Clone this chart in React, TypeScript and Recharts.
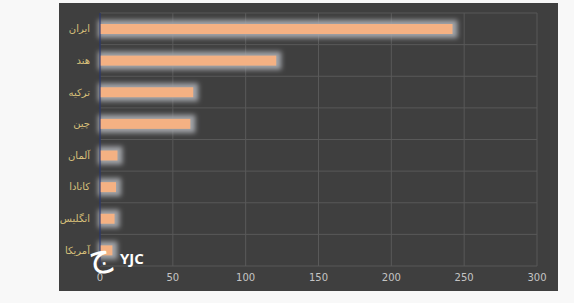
import { BarChart, Bar, XAxis, YAxis, CartesianGrid } from 'recharts';

const countries = ['ایران', 'هند', 'ترکیه', 'چین', 'آلمان', 'کانادا', 'انگلیس', 'آمریکا'];
const values = [242, 121, 64, 62, 12, 11, 10, 8.5];
const xTicks = [0, 50, 100, 150, 200, 250, 300];

const data = countries.map((name, i) => ({ name, value: values[i] }));

// peach bar with a soft grey glow around it
const GlowBar = (props: any) => {
  const { x, y, width, height, index } = props;
  if (width == null || width <= 0) return null;
  const id = `glow-${index}`;
  return (
    <g>
      <defs>
        <filter id={id} x="-50%" y="-100%" width="200%" height="300%">
          <feGaussianBlur stdDeviation="2.4" />
        </filter>
      </defs>
      <rect x={x - 2} y={y - 4} width={width + 7} height={height + 8} fill="#a2a4a9" filter={`url(#${id})`} />
      <rect x={x} y={y} width={width} height={height} fill="#f4b183" />
    </g>
  );
};

export default function App() {
  return (
    <div style={{ position: 'fixed', left: 0, top: 0, width: 574, height: 303, background: '#f8f8f8', fontFamily: '"DejaVu Sans", Tahoma, sans-serif' }}>
      <div style={{ position: 'absolute', left: 59, top: 3, width: 499, height: 288, background: '#3f3f3f' }} />
      <div style={{ position: 'absolute', left: 0, top: 0 }}>
        <BarChart
          width={574}
          height={303}
          data={data}
          layout="vertical"
          margin={{ top: 13, right: 37, bottom: 7, left: 0 }}
          barSize={10}
        >
          <CartesianGrid
            stroke="#595959"
            horizontalCoordinatesGenerator={({ offset }: any) =>
              countries.concat(['']).map((_, i) => offset.top + (i * offset.height) / countries.length)
            }
          />
          <XAxis
            type="number"
            domain={[0, 300]}
            ticks={xTicks}
            axisLine={false}
            tickLine={false}
            height={30}
            tick={{ fill: '#c4c4c4', fontSize: 10 }}
          />
          <YAxis
            type="category"
            dataKey="name"
            width={100}
            tickLine={false}
            axisLine={{ stroke: '#18286a', strokeWidth: 1 }}
            tickMargin={4}
            tick={{ fill: '#d8c07a', fontSize: 10 }}
          />
          <Bar dataKey="value" shape={GlowBar} isAnimationActive={false} />
        </BarChart>
      </div>
      <div style={{ position: 'absolute', left: 88, top: 234, color: '#ffffff', fontSize: 34, lineHeight: '40px', transform: 'rotate(-12deg)' }}>ج</div>
      <div style={{ position: 'absolute', left: 120, top: 248, color: '#ffffff', fontSize: 15, fontWeight: 'bold', fontFamily: '"Open Sans", sans-serif' }}>YJC</div>
    </div>
  );
}
